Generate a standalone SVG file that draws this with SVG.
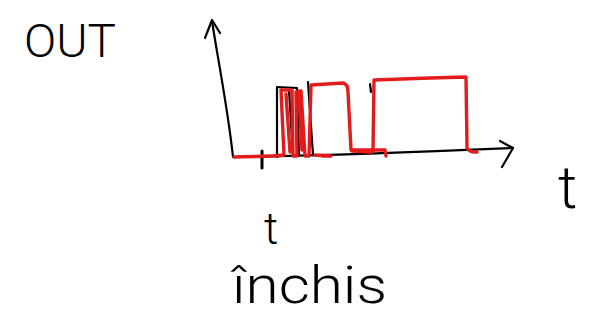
<svg xmlns="http://www.w3.org/2000/svg" width="608" height="321" viewBox="0 0 608 321">
<style>
.ink{fill:none;stroke:#000;stroke-width:2.2;stroke-linecap:round;stroke-linejoin:round}
.red{fill:none;stroke:#e31b1b;stroke-width:3.4;stroke-linecap:round;stroke-linejoin:round}
.hand{font-family:Roboto,"Liberation Sans",Arial,sans-serif;font-weight:300;fill:#000}
</style>
<rect width="608" height="321" fill="#fff"/>
<g id="axes">
<path class="ink" d="M212,21 C218,60 228,110 233,157"/>
<path class="ink" d="M205,38 L212,20 L220,33"/>
<path class="ink" d="M233,157 C300,156 420,152 513,148"/>
<path class="ink" d="M500,141 L513,148 L502,167"/>
<path class="ink" d="M262,151 L262,168" style="stroke-width:3"/>
</g>
<g id="black-steps">
<path class="ink" d="M277,157 L277,87 L297,88 L299,155"/>
<path class="ink" d="M289,90 L293,154"/>
<path class="ink" d="M308,82 L313,155"/>
<path class="ink" d="M370,84 L371,92"/>
</g>
<g id="signal">
<path class="red" d="M234,157 C250,156 270,157 284,155 L281,90 L292,90 L293,156 L297,156 L296,92 L301,91 L305,156 L309,156 L311,85 L343,83 Q348,84 348,92 L351,150 L385,150 L386,156"/>
<path class="red" d="M286,94 L290,152 M299,94 L302,150 M315,155 L331,156 M322,156 L327,156"/>
<path class="red" d="M373,151 L374,80 Q400,79 430,78 L466,77 L467,148 Q470,153 477,152"/>
<path class="red" d="M352,151 L372,152"/>
</g>
<g id="labels">
<text class="hand" x="24" y="57" font-size="46" textLength="92" lengthAdjust="spacingAndGlyphs">OUT</text>
<text class="hand" x="558" y="208" font-size="60">t</text>
<text class="hand" x="264" y="244" font-size="44">t</text>
<text class="hand" x="232" y="303" font-size="52" textLength="155" lengthAdjust="spacingAndGlyphs">închis</text>
</g>
</svg>
